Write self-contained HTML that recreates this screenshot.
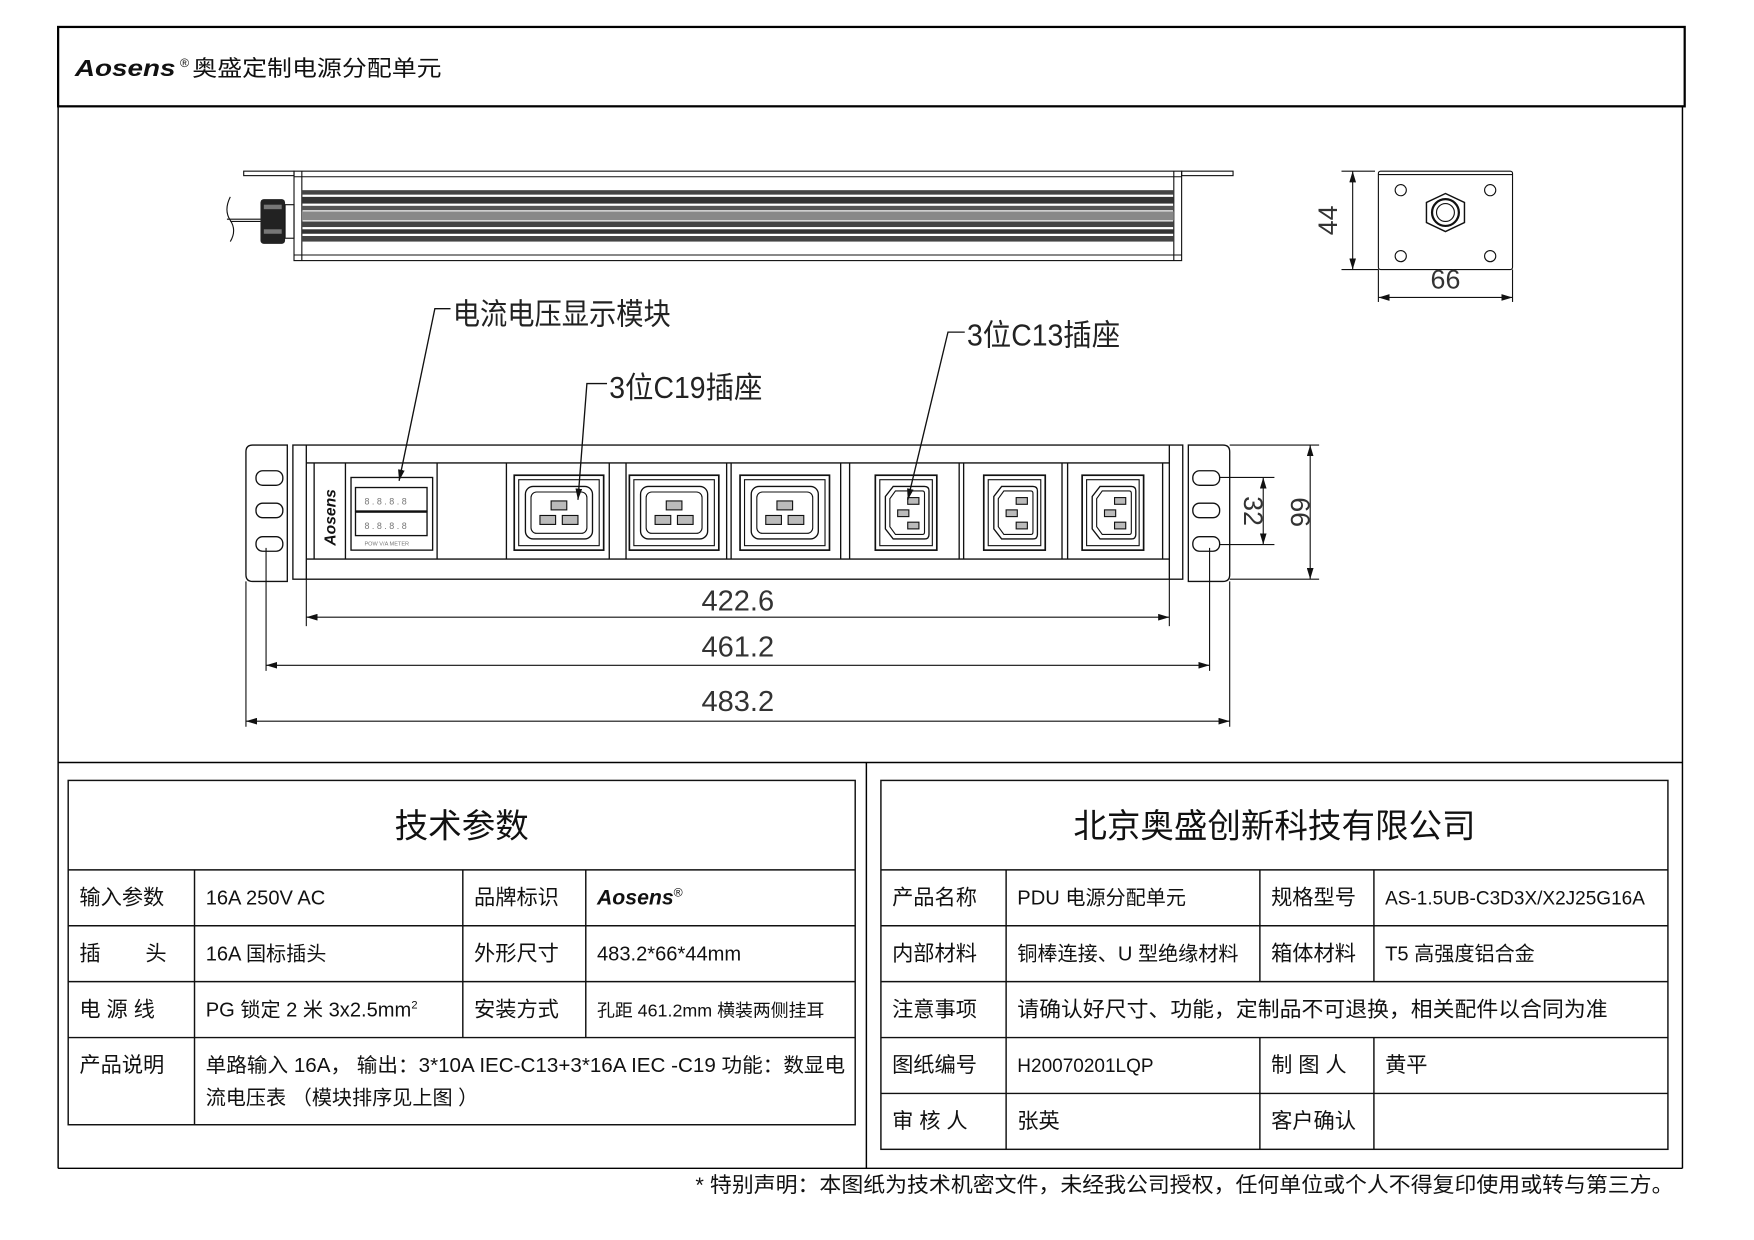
<!DOCTYPE html>
<html><head><meta charset="utf-8"><style>
html,body{margin:0;padding:0;background:#fff;}
svg{display:block;}
text{font-family:"Liberation Sans","Noto Sans CJK SC",sans-serif;fill:#111;}
.cn{font-family:"Liberation Sans","Noto Sans CJK SC",sans-serif;}
.dim{font-family:"Liberation Sans Narrow","Liberation Sans","Noto Sans CJK SC",sans-serif;fill:#333;}
</style></head><body>
<svg width="1754" height="1240" viewBox="0 0 1569 1109" xmlns="http://www.w3.org/2000/svg">
<defs>
<marker id="ar" viewBox="0 0 10 6" refX="10" refY="3" markerWidth="10" markerHeight="6" orient="auto-start-reverse" markerUnits="userSpaceOnUse"><path d="M0,0 L10,3 L0,6 z" fill="#111"/></marker>
<g id="c19">
<rect x="5" y="10" width="80" height="67" fill="none" stroke="#111" stroke-width="1.5"/>
<rect x="9" y="14" width="72" height="59" fill="none" stroke="#111" stroke-width="1"/>
<rect x="15" y="20" width="60" height="47" rx="7" fill="none" stroke="#111" stroke-width="1.2"/>
<rect x="20" y="25" width="50" height="37" rx="5" fill="none" stroke="#111" stroke-width="1"/>
<rect x="38" y="33" width="14" height="8" fill="#bbb" stroke="#111"/>
<rect x="28" y="46" width="14" height="8" fill="#bbb" stroke="#111"/>
<rect x="48" y="46" width="14" height="8" fill="#bbb" stroke="#111"/>
</g>
<g id="c13">
<rect x="0" y="10" width="55" height="67" fill="none" stroke="#111" stroke-width="1.5"/>
<rect x="4" y="14" width="47" height="59" fill="none" stroke="#111" stroke-width="1"/>
<path d="M16,20 L44,20 Q48,20 48,24 L48,63 Q48,67 44,67 L16,67 L9,58 L9,29 Z" fill="none" stroke="#111" stroke-width="1.2"/>
<path d="M18,24 L42,24 Q44,24 44,26 L44,61 Q44,63 42,63 L18,63 L13,56 L13,31 Z" fill="none" stroke="#111" stroke-width="1"/>
<rect x="29" y="30" width="10" height="6" fill="#bbb" stroke="#111"/>
<rect x="20" y="41" width="10" height="6" fill="#bbb" stroke="#111"/>
<rect x="29" y="52" width="10" height="6" fill="#bbb" stroke="#111"/>
</g>
</defs>

<!-- Header -->
<rect x="52" y="24" width="1455" height="71" fill="none" stroke="#000" stroke-width="2"/>
<text x="67" y="68" font-size="21" font-weight="bold" font-style="italic" textLength="90" lengthAdjust="spacingAndGlyphs">Aosens</text>
<text x="161" y="60" font-size="11">®</text>
<text x="172" y="68" font-size="20" class="cn" textLength="223" lengthAdjust="spacingAndGlyphs">奥盛定制电源分配单元</text>

<!-- outer frame -->
<line x1="52" y1="95" x2="52" y2="1045" stroke="#000" stroke-width="1.3"/>
<line x1="1505" y1="95" x2="1505" y2="1045" stroke="#000" stroke-width="1.3"/>
<line x1="52" y1="682" x2="1505" y2="682" stroke="#000" stroke-width="1.3"/>
<line x1="52" y1="1045" x2="1505" y2="1045" stroke="#000" stroke-width="1.3"/>
<line x1="775" y1="682" x2="775" y2="1045" stroke="#000" stroke-width="1.3"/>

<!-- Top view -->
<g stroke="#111" fill="none" stroke-width="1">
<rect x="218" y="153" width="45" height="4"/>
<rect x="1057" y="153" width="46" height="4"/>
<rect x="263" y="153" width="794" height="80"/>
<line x1="270" y1="153" x2="270" y2="233"/>
<line x1="1050" y1="153" x2="1050" y2="233"/>
<line x1="263" y1="228" x2="1057" y2="228"/>
<line x1="263" y1="158" x2="1057" y2="158"/>
</g>
<g>
<rect x="270" y="170" width="780" height="4" fill="#444"/>
<rect x="270" y="176" width="780" height="6" fill="#333"/>
<rect x="270" y="184" width="780" height="4" fill="#555"/>
<rect x="270" y="189" width="780" height="8" fill="#888"/>
<rect x="270" y="198" width="780" height="5" fill="#444"/>
<rect x="270" y="205" width="780" height="4" fill="#333"/>
<rect x="270" y="211" width="780" height="5" fill="#444"/>
</g>
<rect x="233" y="178" width="22" height="40" rx="3" fill="#222"/>
<rect x="236" y="183" width="16" height="4" fill="#777"/>
<rect x="236" y="205" width="16" height="4" fill="#777"/>
<rect x="255" y="183" width="8" height="30" fill="none" stroke="#111"/>
<path d="M206,176 Q200,188 206,197 Q212,206 206,216" fill="none" stroke="#111"/>
<line x1="203" y1="196" x2="233" y2="196" stroke="#111"/>
<line x1="206" y1="198" x2="233" y2="198" stroke="#111"/>

<!-- Side view -->
<g stroke="#111" fill="none" stroke-width="1">
<rect x="1233" y="153" width="120" height="88" rx="2"/>
<line x1="1233" y1="156" x2="1353" y2="156"/>
<circle cx="1253" cy="170" r="5"/><circle cx="1333" cy="170" r="5"/>
<circle cx="1253" cy="229" r="5"/><circle cx="1333" cy="229" r="5"/>
<path d="M1293,173 L1310,181 L1310,199 L1293,207 L1276,199 L1276,181 Z" stroke-width="1.3"/>
<circle cx="1293" cy="190" r="12" stroke-width="2"/>
<circle cx="1293" cy="190" r="8"/>
<line x1="1200" y1="153" x2="1230" y2="153"/>
<line x1="1200" y1="241" x2="1233" y2="241"/>
<line x1="1210" y1="153" x2="1210" y2="241" marker-start="url(#ar)" marker-end="url(#ar)"/>
<line x1="1233" y1="241" x2="1233" y2="270"/>
<line x1="1353" y1="241" x2="1353" y2="270"/>
<line x1="1233" y1="266" x2="1353" y2="266" marker-start="url(#ar)" marker-end="url(#ar)"/>
</g>
<text class="dim" x="1293" y="258" font-size="24" text-anchor="middle">66</text>
<text class="dim" transform="translate(1196,197) rotate(-90)" font-size="24" text-anchor="middle">44</text>

<!-- Front view -->
<g stroke="#111" fill="none" stroke-width="1.2">
<path d="M226,398 L257,398 L257,520 L226,520 Q220,520 220,514 L220,404 Q220,398 226,398 Z"/>
<path d="M1063,398 L1094,398 Q1100,398 1100,404 L1100,514 Q1100,520 1094,520 L1063,520 Z"/>
<rect x="229" y="421" width="24" height="13" rx="6"/><rect x="229" y="450" width="24" height="13" rx="6"/><rect x="229" y="480" width="24" height="13" rx="6"/>
<rect x="1067" y="421" width="24" height="13" rx="6"/><rect x="1067" y="450" width="24" height="13" rx="6"/><rect x="1067" y="480" width="24" height="13" rx="6"/>
<rect x="262" y="398" width="796" height="120"/>
<line x1="274" y1="398" x2="274" y2="518"/>
<line x1="1046" y1="398" x2="1046" y2="518"/>
<line x1="274" y1="414" x2="1046" y2="414"/>
<line x1="274" y1="500" x2="1046" y2="500"/>
<line x1="281" y1="414" x2="281" y2="500"/>
<line x1="1040" y1="414" x2="1040" y2="500"/>
<line x1="309" y1="414" x2="309" y2="500"/>
<line x1="391" y1="414" x2="391" y2="500"/>
<line x1="453" y1="414" x2="453" y2="500"/>
<line x1="545" y1="414" x2="545" y2="500"/>
<line x1="560" y1="414" x2="560" y2="500"/>
<line x1="650" y1="414" x2="650" y2="500"/>
<line x1="654" y1="414" x2="654" y2="500"/>
<line x1="752" y1="414" x2="752" y2="500"/>
<line x1="760" y1="414" x2="760" y2="500"/>
<line x1="858" y1="414" x2="858" y2="500"/>
<line x1="862" y1="414" x2="862" y2="500"/>
<line x1="950" y1="414" x2="950" y2="500"/>
<line x1="955" y1="414" x2="955" y2="500"/>
<rect x="314" y="427" width="73" height="65"/>
<rect x="318" y="436" width="64" height="21"/>
<rect x="318" y="458" width="64" height="21"/>
</g>
<text x="326" y="451" font-size="8" style="fill:#777">8 . 8 . 8 . 8</text>
<text x="326" y="473" font-size="8" style="fill:#777">8 . 8 . 8 . 8</text>
<text x="326" y="488" font-size="5" style="fill:#777">POW    V/A    METER</text>
<text transform="translate(300,488) rotate(-90)" font-size="14" font-weight="bold" font-style="italic">Aosens</text>
<use href="#c19" x="455" y="415"/>
<use href="#c19" x="558" y="415"/>
<use href="#c19" x="657" y="415"/>
<use href="#c13" x="783" y="415"/>
<use href="#c13" x="880" y="415"/>
<use href="#c13" x="968" y="415"/>

<!-- Callouts -->
<g stroke="#111" fill="none" stroke-width="1.2">
<polyline points="403,276 389,276 357,430" marker-end="url(#ar)"/>
<polyline points="543,343 525,343 517,447" marker-end="url(#ar)"/>
<polyline points="863,297 848,297 812,447" marker-end="url(#ar)"/>
</g>
<text x="405" y="290" font-size="27" class="dim" style="fill:#222" textLength="195" lengthAdjust="spacingAndGlyphs">电流电压显示模块</text>
<text x="545" y="356" font-size="27" class="dim" style="fill:#222" textLength="137" lengthAdjust="spacingAndGlyphs">3位C19插座</text>
<text x="865" y="309" font-size="27" class="dim" style="fill:#222" textLength="137" lengthAdjust="spacingAndGlyphs">3位C13插座</text>

<!-- Dimensions -->
<g stroke="#111" fill="none" stroke-width="1">
<line x1="274" y1="518" x2="274" y2="560"/>
<line x1="1046" y1="518" x2="1046" y2="560"/>
<line x1="274" y1="552" x2="1046" y2="552" marker-start="url(#ar)" marker-end="url(#ar)"/>
<line x1="238" y1="490" x2="238" y2="600"/>
<line x1="1082" y1="490" x2="1082" y2="600"/>
<line x1="238" y1="595" x2="1082" y2="595" marker-start="url(#ar)" marker-end="url(#ar)"/>
<line x1="220" y1="520" x2="220" y2="650"/>
<line x1="1100" y1="520" x2="1100" y2="650"/>
<line x1="220" y1="645" x2="1100" y2="645" marker-start="url(#ar)" marker-end="url(#ar)"/>
<line x1="1091" y1="427" x2="1140" y2="427"/>
<line x1="1091" y1="487" x2="1140" y2="487"/>
<line x1="1130" y1="427" x2="1130" y2="487" marker-start="url(#ar)" marker-end="url(#ar)"/>
<line x1="1100" y1="398" x2="1180" y2="398"/>
<line x1="1100" y1="518" x2="1180" y2="518"/>
<line x1="1172" y1="398" x2="1172" y2="518" marker-start="url(#ar)" marker-end="url(#ar)"/>
</g>
<text class="dim" x="660" y="546" font-size="26" text-anchor="middle">422.6</text>
<text class="dim" x="660" y="587" font-size="26" text-anchor="middle">461.2</text>
<text class="dim" x="660" y="636" font-size="26" text-anchor="middle">483.2</text>
<text class="dim" transform="translate(1113,457) rotate(90)" font-size="24" text-anchor="middle">32</text>
<text class="dim" transform="translate(1155,458) rotate(90)" font-size="24" text-anchor="middle">66</text>

<!-- Left table -->
<g stroke="#111" stroke-width="1.3" fill="none">
<rect x="61" y="698" width="704" height="308"/>
<line x1="61" y1="778" x2="765" y2="778"/>
<line x1="61" y1="828" x2="765" y2="828"/>
<line x1="61" y1="878" x2="765" y2="878"/>
<line x1="61" y1="928" x2="765" y2="928"/>
<line x1="174" y1="778" x2="174" y2="1006"/>
<line x1="414" y1="778" x2="414" y2="928"/>
<line x1="524" y1="778" x2="524" y2="928"/>
</g>
<g font-size="19">
<text x="413" y="749" font-size="30" text-anchor="middle">技术参数</text>
<text x="71" y="809">输入参数</text>
<text x="184" y="809" font-size="18">16A 250V AC</text>
<text x="424" y="809">品牌标识</text>
<text x="534" y="809" font-size="19" font-weight="bold" font-style="italic">Aosens<tspan font-size="11" font-weight="normal" font-style="normal" dy="-7">®</tspan></text>
<text x="71" y="859">插</text><text x="130" y="859">头</text>
<text x="184" y="859" font-size="18">16A 国标插头</text>
<text x="424" y="859">外形尺寸</text>
<text x="534" y="859" font-size="18">483.2*66*44mm</text>
<text x="71" y="909">电 源 线</text>
<text x="184" y="909" font-size="18">PG 锁定  2 米 3x2.5mm<tspan font-size="10" dy="-7">2</tspan></text>
<text x="424" y="909">安装方式</text>
<text x="534" y="909" font-size="16">孔距 461.2mm  横装两侧挂耳</text>
<text x="71" y="959">产品说明</text>
<text x="184" y="959" font-size="18" textLength="572" lengthAdjust="spacingAndGlyphs">单路输入 16A，  输出：3*10A IEC-C13+3*16A IEC -C19 功能：数显电</text>
<text x="184" y="988" font-size="18">流电压表  （模块排序见上图  ）</text>
</g>

<!-- Right table -->
<g stroke="#111" stroke-width="1.3" fill="none">
<rect x="788" y="698" width="704" height="330"/>
<line x1="788" y1="778" x2="1492" y2="778"/>
<line x1="788" y1="828" x2="1492" y2="828"/>
<line x1="788" y1="878" x2="1492" y2="878"/>
<line x1="788" y1="928" x2="1492" y2="928"/>
<line x1="788" y1="978" x2="1492" y2="978"/>
<line x1="900" y1="778" x2="900" y2="1028"/>
<line x1="1127" y1="778" x2="1127" y2="878"/>
<line x1="1229" y1="778" x2="1229" y2="878"/>
<line x1="1127" y1="928" x2="1127" y2="1028"/>
<line x1="1229" y1="928" x2="1229" y2="1028"/>
</g>
<g font-size="19">
<text x="1140" y="749" font-size="30" text-anchor="middle">北京奥盛创新科技有限公司</text>
<text x="798" y="809">产品名称</text>
<text x="910" y="809" font-size="18">PDU 电源分配单元</text>
<text x="1137" y="809">规格型号</text>
<text x="1239" y="809" font-size="17">AS-1.5UB-C3D3X/X2J25G16A</text>
<text x="798" y="859">内部材料</text>
<text x="910" y="859" font-size="18">铜棒连接、U 型绝缘材料</text>
<text x="1137" y="859">箱体材料</text>
<text x="1239" y="859" font-size="18">T5 高强度铝合金</text>
<text x="798" y="909">注意事项</text>
<text x="910" y="909" font-size="19" textLength="528" lengthAdjust="spacingAndGlyphs">请确认好尺寸、功能，定制品不可退换，相关配件以合同为准</text>
<text x="798" y="959">图纸编号</text>
<text x="910" y="959" font-size="17">H20070201LQP</text>
<text x="1137" y="959">制 图 人</text>
<text x="1239" y="959">黄平</text>
<text x="798" y="1009">审 核 人</text>
<text x="910" y="1009">张英</text>
<text x="1137" y="1009">客户确认</text>
</g>

<text x="622" y="1066" font-size="19" textLength="875" lengthAdjust="spacingAndGlyphs">*  特别声明：本图纸为技术机密文件，未经我公司授权，任何单位或个人不得复印使用或转与第三方。</text>
</svg>
</body></html>
